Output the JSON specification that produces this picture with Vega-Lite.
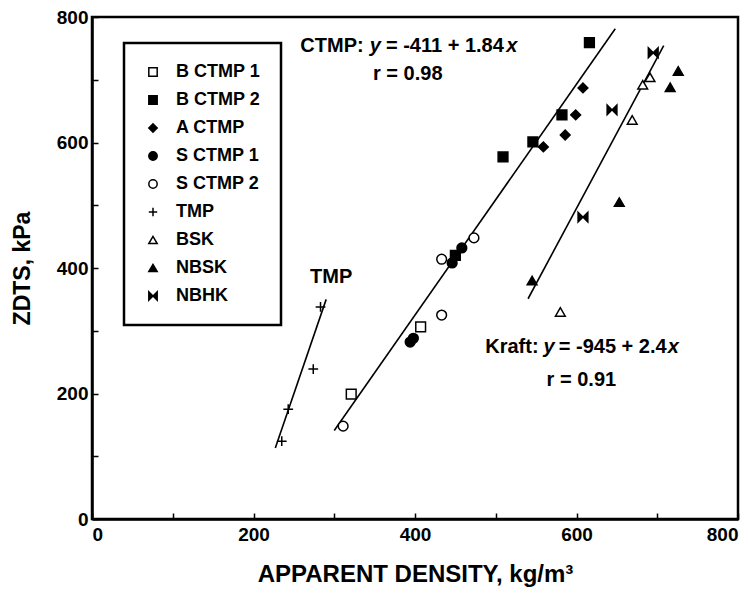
{
  "$schema": "https://vega.github.io/schema/vega-lite/v6.json",
  "width": 646,
  "height": 502,
  "autosize": "none",
  "padding": {"left": 92, "top": 17, "right": 16, "bottom": 84},
  "background": "white",
  "config": {
    "font": "Liberation Sans",
    "view": {"stroke": "black", "strokeWidth": 2.5},
    "axis": {
      "grid": false,
      "domainColor": "black",
      "domainWidth": 2.5,
      "tickColor": "black",
      "tickWidth": 1.5,
      "tickSize": -6,
      "labelFont": "Liberation Sans",
      "labelFontWeight": "bold",
      "labelFontSize": 19,
      "labelColor": "black",
      "titleFont": "Liberation Sans",
      "titleFontWeight": "bold",
      "titleColor": "black"
    },
    "legend": {
      "strokeColor": "black",
      "strokeWidth": 2.5,
      "fillColor": "white",
      "padding": 20,
      "labelFont": "Liberation Sans",
      "labelFontSize": 18,
      "labelFontWeight": "bold",
      "labelColor": "black",
      "labelOffset": 14,
      "symbolSize": 70,
      "symbolStrokeWidth": 1.5,
      "rowPadding": 10
    },
    "text": {"font": "Liberation Sans", "fontWeight": "bold", "fontSize": 20, "color": "black"}
  },
  "datasets": {
    "samples": [
      {"pulp": "B CTMP 1", "density": 321, "zdts": 199},
      {"pulp": "B CTMP 1", "density": 407, "zdts": 306},
      {"pulp": "B CTMP 2", "density": 450, "zdts": 420},
      {"pulp": "B CTMP 2", "density": 509, "zdts": 577},
      {"pulp": "B CTMP 2", "density": 546, "zdts": 601},
      {"pulp": "B CTMP 2", "density": 582, "zdts": 644},
      {"pulp": "B CTMP 2", "density": 616, "zdts": 759},
      {"pulp": "A CTMP", "density": 559, "zdts": 593},
      {"pulp": "A CTMP", "density": 586, "zdts": 612},
      {"pulp": "A CTMP", "density": 599, "zdts": 644},
      {"pulp": "A CTMP", "density": 608, "zdts": 687},
      {"pulp": "S CTMP 1", "density": 394, "zdts": 282},
      {"pulp": "S CTMP 1", "density": 398, "zdts": 288},
      {"pulp": "S CTMP 1", "density": 446, "zdts": 408},
      {"pulp": "S CTMP 1", "density": 458, "zdts": 432},
      {"pulp": "S CTMP 2", "density": 311, "zdts": 148},
      {"pulp": "S CTMP 2", "density": 433, "zdts": 325},
      {"pulp": "S CTMP 2", "density": 433, "zdts": 414},
      {"pulp": "S CTMP 2", "density": 473, "zdts": 448},
      {"pulp": "TMP", "density": 235, "zdts": 124},
      {"pulp": "TMP", "density": 243, "zdts": 175},
      {"pulp": "TMP", "density": 274, "zdts": 239},
      {"pulp": "TMP", "density": 283, "zdts": 338},
      {"pulp": "BSK", "density": 580, "zdts": 330},
      {"pulp": "BSK", "density": 669, "zdts": 636},
      {"pulp": "BSK", "density": 682, "zdts": 692},
      {"pulp": "BSK", "density": 691, "zdts": 704},
      {"pulp": "NBSK", "density": 545, "zdts": 380},
      {"pulp": "NBSK", "density": 653, "zdts": 505},
      {"pulp": "NBSK", "density": 716, "zdts": 688},
      {"pulp": "NBSK", "density": 726, "zdts": 714},
      {"pulp": "NBHK", "density": 608, "zdts": 481},
      {"pulp": "NBHK", "density": 644, "zdts": 652},
      {"pulp": "NBHK", "density": 695, "zdts": 743}
    ],
    "fits": [
      {"fit": "CTMP", "density": 300, "zdts": 141},
      {"fit": "CTMP", "density": 648, "zdts": 781.3},
      {"fit": "Kraft", "density": 540, "zdts": 351},
      {"fit": "Kraft", "density": 708, "zdts": 754.2},
      {"fit": "TMP", "density": 227, "zdts": 113},
      {"fit": "TMP", "density": 290, "zdts": 350}
    ],
    "notes": [
      {"density": 258, "zdts": 754, "note": "CTMP:"},
      {"density": 364, "zdts": 754, "note": "= -411 + 1.84"},
      {"density": 348, "zdts": 709, "note": "r = 0.98"},
      {"density": 270, "zdts": 386, "note": "TMP"},
      {"density": 487, "zdts": 274, "note": "Kraft:"},
      {"density": 578, "zdts": 274, "note": "= -945 + 2.4"},
      {"density": 563, "zdts": 221, "note": "r = 0.91"}
    ],
    "variables": [
      {"density": 344, "zdts": 754, "note": "y"},
      {"density": 513, "zdts": 754, "note": "x"},
      {"density": 559, "zdts": 274, "note": "y"},
      {"density": 713, "zdts": 274, "note": "x"}
    ]
  },
  "layer": [
    {
      "data": {"name": "fits"},
      "mark": {"type": "line", "color": "black", "strokeWidth": 1.6},
      "encoding": {
        "x": {"field": "density", "type": "quantitative"},
        "y": {"field": "zdts", "type": "quantitative"},
        "detail": {"field": "fit"}
      }
    },
    {
      "data": {"name": "samples"},
      "mark": {"type": "point", "strokeWidth": 1.5, "opacity": 1, "fillOpacity": 1, "size": 95},
      "encoding": {
        "x": {
          "field": "density",
          "type": "quantitative",
          "scale": {"domain": [0, 800], "nice": false},
          "axis": {
            "title": "APPARENT DENSITY, kg/m³",
            "titleFontSize": 24,
            "values": [0, 100, 200, 300, 400, 500, 600, 700, 800],
            "labelExpr": "datum.value % 200 === 0 ? datum.label : ''",
            "labelPadding": 12,
            "titlePadding": 18
          }
        },
        "y": {
          "field": "zdts",
          "type": "quantitative",
          "scale": {"domain": [0, 800], "nice": false},
          "axis": {
            "title": "ZDTS, kPa",
            "titleFontSize": 23,
            "values": [0, 100, 200, 300, 400, 500, 600, 700, 800],
            "labelExpr": "datum.value % 200 === 0 ? datum.label : ''",
            "labelPadding": 10,
            "titlePadding": 22
          }
        },
        "shape": {
          "field": "pulp",
          "type": "nominal",
          "scale": {
            "domain": ["B CTMP 1", "B CTMP 2", "A CTMP", "S CTMP 1", "S CTMP 2", "TMP", "BSK", "NBSK", "NBHK"],
            "range": ["square", "square", "diamond", "circle", "circle", "M-1,0H1M0,-1V1", "triangle-up", "triangle-up", "M-1,-1L-1,1L1,-1L1,1Z"]
          },
          "legend": {"title": null, "orient": "none", "legendX": 32, "legendY": 26}
        },
        "fill": {
          "field": "pulp",
          "type": "nominal",
          "scale": {
            "domain": ["B CTMP 1", "B CTMP 2", "A CTMP", "S CTMP 1", "S CTMP 2", "TMP", "BSK", "NBSK", "NBHK"],
            "range": ["white", "black", "black", "black", "white", "white", "white", "black", "black"]
          },
          "legend": {"title": null, "orient": "none", "legendX": 32, "legendY": 26}
        },
        "stroke": {
          "field": "pulp",
          "type": "nominal",
          "scale": {
            "domain": ["B CTMP 1", "B CTMP 2", "A CTMP", "S CTMP 1", "S CTMP 2", "TMP", "BSK", "NBSK", "NBHK"],
            "range": ["black", "black", "black", "black", "black", "black", "black", "black", "black"]
          },
          "legend": {"title": null, "orient": "none", "legendX": 32, "legendY": 26}
        }
      }
    },
    {
      "data": {"name": "notes"},
      "mark": {"type": "text", "align": "left", "baseline": "middle"},
      "encoding": {
        "x": {"field": "density", "type": "quantitative"},
        "y": {"field": "zdts", "type": "quantitative"},
        "text": {"field": "note"}
      }
    },
    {
      "data": {"name": "variables"},
      "mark": {"type": "text", "align": "left", "baseline": "middle", "fontStyle": "italic"},
      "encoding": {
        "x": {"field": "density", "type": "quantitative"},
        "y": {"field": "zdts", "type": "quantitative"},
        "text": {"field": "note"}
      }
    }
  ]
}
